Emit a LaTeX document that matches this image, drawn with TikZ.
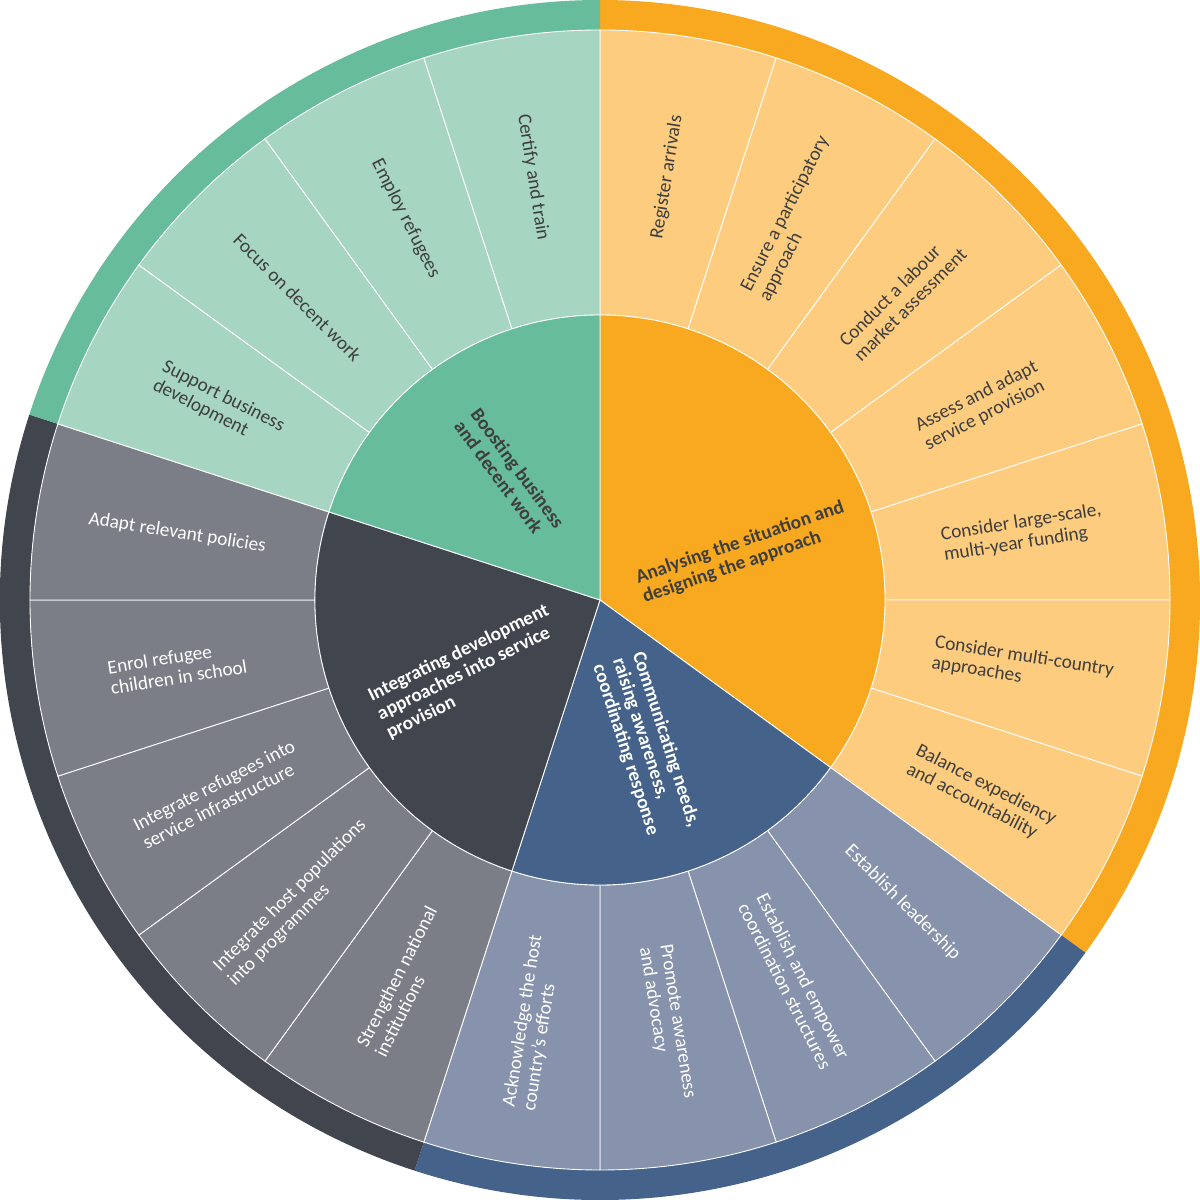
\documentclass[tikz,border=0pt]{standalone}
\usepackage{fontspec}
\setmainfont{Carlito}
\definecolor{orgdark}{HTML}{F8A91F}
\definecolor{orglight}{HTML}{FDCC7E}
\definecolor{bluedark}{HTML}{44628A}
\definecolor{bluelight}{HTML}{8792AD}
\definecolor{greydark}{HTML}{41454E}
\definecolor{greylight}{HTML}{7B7E87}
\definecolor{greendark}{HTML}{66BC9B}
\definecolor{greenlight}{HTML}{A6D5C2}
\definecolor{txtdark}{HTML}{3E3E3E}

\begin{document}
\begin{tikzpicture}[
        seg/.style={draw=white,line width=0.5pt},
        lab/.style={align=left,inner sep=0pt,font=\fontsize{11}{11.8}\selectfont},
        hub/.style={align=left,inner sep=0pt,font=\fontsize{11}{11.8}\selectfont\bfseries}
    ]
        \useasboundingbox (-12,-12) rectangle (12,12);
        \foreach \a/\b/\c in {90/-36/orgdark,-36/-108/bluedark,-108/-198/greydark,-198/-270/greendark}
            \fill[\c] (\a:11.4) arc[start angle=\a,end angle=\b,radius=11.4]
                -- (\b:12) arc[start angle=\b,end angle=\a,radius=12] -- cycle;
        \foreach \f/\l/\c in {0/6/orglight,7/10/bluelight,11/15/greylight,16/19/greenlight}
            \foreach \i in {\f,...,\l} {
                \pgfmathsetmacro\a{90-18*\i}
                \pgfmathsetmacro\b{72-18*\i}
                \filldraw[seg,fill=\c] (\a:5.7) arc[start angle=\a,end angle=\b,radius=5.7]
                    -- (\b:11.4) arc[start angle=\b,end angle=\a,radius=11.4] -- cycle;
            }
        \foreach \a/\b/\c in {90/-36/orgdark,-36/-108/bluedark,-108/-198/greydark,-198/-270/greendark}
            \filldraw[seg,fill=\c] (0,0) -- (\a:5.7) arc[start angle=\a,end angle=\b,radius=5.7] -- cycle;
        \foreach \i/\tc/\txt in {
                0/txtdark/Register arrivals,
                1/txtdark/{Ensure a participatory\\approach},
                2/txtdark/{Conduct a labour\\market assessment},
                3/txtdark/{Assess and adapt\\service provision},
                4/txtdark/{Consider large-scale,\\multi-year funding},
                5/txtdark/{Consider multi-country\\approaches},
                6/txtdark/{Balance expediency\\and accountability},
                7/white/Establish leadership,
                8/white/{Establish and empower\\coordination structures},
                9/white/{Promote awareness\\and advocacy},
                10/white/{Acknowledge the host\\country's efforts},
                11/white/{Strengthen national\\institutions},
                12/white/{Integrate host populations\\into programmes},
                13/white/{Integrate refugees into\\service infrastructure},
                14/white/{Enrol refugee\\children in school},
                15/white/Adapt relevant policies,
                16/txtdark/{Support business\\development},
                17/txtdark/Focus on decent work,
                18/txtdark/Employ refugees,
                19/txtdark/Certify and train} {
            \pgfmathsetmacro\m{81-18*\i}
            \pgfmathsetmacro\r{\i<10 ? \m : \m+180}
            \node[lab,text=\tc,rotate=\r] (seg\i) at (\m:8.56) {\txt};
        }
        \node[hub,text=txtdark,rotate=19] (analysing) at (18.3:3.02) {Analysing the situation and\\designing the approach};
        \node[hub,text=white,rotate=-72] (communicating) at (-72.5:3.06) {Communicating needs,\\raising awareness,\\coordinating response};
        \node[hub,text=white,rotate=26] (integrating) at (208.5:3.01) {Integrating development\\approaches into service\\provision};
        \node[hub,text=txtdark,rotate=-53.5] (boosting) at (125.7:3.1) {Boosting business\\and decent work};
    \end{tikzpicture}
\end{document}
